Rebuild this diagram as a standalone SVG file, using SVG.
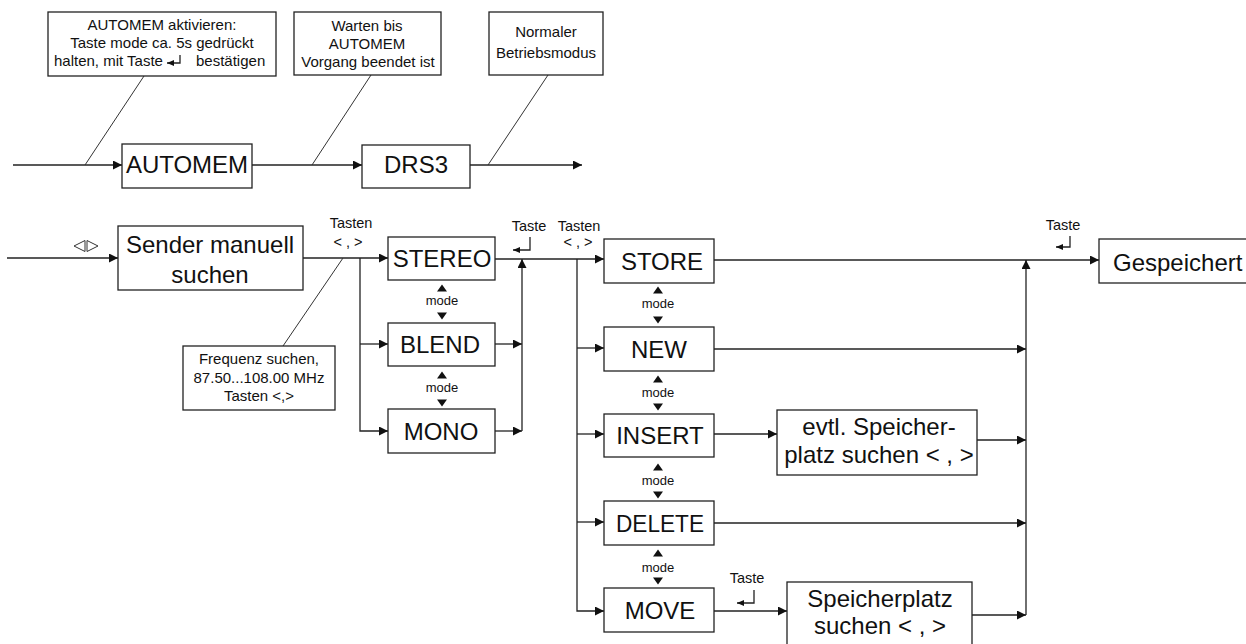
<svg xmlns="http://www.w3.org/2000/svg" xmlns:xlink="http://www.w3.org/1999/xlink" width="1246" height="644" viewBox="0 0 1246 644">
<style>
  .box{fill:#fff;stroke:#222;stroke-width:1.3}
  .ln{fill:none;stroke:#222;stroke-width:1.3}
  .thin{fill:none;stroke:#333;stroke-width:1}
  .big{font-family:"Liberation Sans",Arial,sans-serif;font-size:24px;fill:#111;text-anchor:middle}
  .sm{font-family:"Liberation Sans",Arial,sans-serif;font-size:15px;fill:#111;text-anchor:middle}
  .lbl{font-family:"Liberation Sans",Arial,sans-serif;font-size:14.5px;fill:#111;text-anchor:middle}
  .mode{font-family:"Liberation Sans",Arial,sans-serif;font-size:13px;fill:#111;text-anchor:middle}
  .tri{fill:#111}
</style>
<defs>
  <marker id="ah" markerUnits="userSpaceOnUse" markerWidth="10" markerHeight="9" refX="9" refY="4.5" orient="auto">
    <path d="M0,0 L9,4.5 L0,9 Z" fill="#111"/>
  </marker>
  <marker id="ahs" markerUnits="userSpaceOnUse" markerWidth="8" markerHeight="7" refX="7" refY="3" orient="auto">
    <path d="M0,0 L7,3 L0,6 Z" fill="#111"/>
  </marker>
  <path id="up" class="tri" d="M-5,3.5 L5,3.5 L0,-3.5 Z"/>
  <path id="down" class="tri" d="M-5,-3.5 L5,-3.5 L0,3.5 Z"/>
</defs>
<rect width="1246" height="644" fill="#fff"/>

<g id="connectors">
  <!-- top row -->
  <line class="ln" x1="13" y1="165" x2="122" y2="165" marker-end="url(#ah)"/>
  <line class="ln" x1="252" y1="165" x2="362" y2="165" marker-end="url(#ah)"/>
  <line class="ln" x1="470" y1="165" x2="582" y2="165" marker-end="url(#ah)"/>
  <line class="thin" x1="144" y1="76" x2="85" y2="165"/>
  <line class="thin" x1="371" y1="75" x2="312" y2="165"/>
  <line class="thin" x1="548" y1="75" x2="488" y2="165"/>
  <!-- input -->
  <line class="ln" x1="7" y1="258" x2="118" y2="258" marker-end="url(#ah)"/>
  <line class="ln" x1="303" y1="258" x2="388" y2="258" marker-end="url(#ah)"/>
  <line class="thin" x1="283" y1="346" x2="343" y2="258"/>
  <!-- branch 1 -->
  <polyline class="ln" points="360,258 360,431 388,431" marker-end="url(#ah)"/>
  <line class="ln" x1="360" y1="344" x2="388" y2="344" marker-end="url(#ah)"/>
  <!-- collector 1 -->
  <line class="ln" x1="495" y1="344" x2="522" y2="344" marker-end="url(#ah)"/>
  <line class="ln" x1="495" y1="431" x2="522" y2="431" marker-end="url(#ah)"/>
  <line class="ln" x1="522" y1="431" x2="522" y2="259" marker-end="url(#ah)"/>
  <line class="ln" x1="495" y1="259" x2="604" y2="259" marker-end="url(#ah)"/>
  <!-- branch 2 -->
  <polyline class="ln" points="577,259 577,611 604,611" marker-end="url(#ah)"/>
  <line class="ln" x1="577" y1="348" x2="604" y2="348" marker-end="url(#ah)"/>
  <line class="ln" x1="577" y1="434" x2="604" y2="434" marker-end="url(#ah)"/>
  <line class="ln" x1="577" y1="522" x2="604" y2="522" marker-end="url(#ah)"/>
  <!-- outputs -->
  <line class="ln" x1="714" y1="260" x2="1099" y2="260" marker-end="url(#ah)"/>
  <line class="ln" x1="714" y1="349" x2="1026" y2="349" marker-end="url(#ah)"/>
  <line class="ln" x1="714" y1="434" x2="777" y2="434" marker-end="url(#ah)"/>
  <line class="ln" x1="977" y1="440" x2="1026" y2="440" marker-end="url(#ah)"/>
  <line class="ln" x1="714" y1="523" x2="1026" y2="523" marker-end="url(#ah)"/>
  <line class="ln" x1="714" y1="611" x2="787" y2="611" marker-end="url(#ah)"/>
  <line class="ln" x1="972" y1="615" x2="1026" y2="615" marker-end="url(#ah)"/>
  <line class="ln" x1="1026" y1="615" x2="1026" y2="260" marker-end="url(#ah)"/>
</g>

<g id="labels">
  <g id="input-symbol">
    <polygon class="thin" points="74,246 85,240.5 85,251.5"/>
    <polygon class="thin" points="87,240.5 87,251.5 98,246"/>
  </g>
  <text class="lbl" x="351" y="228">Tasten</text>
  <text class="lbl" x="348" y="247">&lt; , &gt;</text>
  <text class="lbl" x="529" y="231">Taste</text>
  <path class="ln" d="M530,237 V250 H513" marker-end="url(#ahs)"/>
  <text class="lbl" x="579" y="231">Tasten</text>
  <text class="lbl" x="578" y="247">&lt; , &gt;</text>
  <text class="lbl" x="1063" y="230">Taste</text>
  <path class="ln" d="M1070,236 V247 H1056" marker-end="url(#ahs)"/>
  <text class="lbl" x="747" y="583">Taste</text>
  <path class="ln" d="M754,590 V603 H737" marker-end="url(#ahs)"/>
  <!-- mode indicators STEREO column -->
  <use href="#up" x="442" y="288"/>
  <text class="mode" x="442" y="305">mode</text>
  <use href="#down" x="442" y="316"/>
  <use href="#up" x="442" y="375"/>
  <text class="mode" x="442" y="392">mode</text>
  <use href="#down" x="442" y="403"/>
  <!-- mode indicators STORE column -->
  <use href="#up" x="658" y="290"/>
  <text class="mode" x="658" y="308">mode</text>
  <use href="#down" x="658" y="320"/>
  <use href="#up" x="658" y="379"/>
  <text class="mode" x="658" y="397">mode</text>
  <use href="#down" x="658" y="407"/>
  <use href="#up" x="658" y="467"/>
  <text class="mode" x="658" y="485">mode</text>
  <use href="#down" x="658" y="495"/>
  <use href="#up" x="658" y="553"/>
  <text class="mode" x="658" y="572">mode</text>
  <use href="#down" x="658" y="581"/>
</g>

<g id="hint-automem">
  <rect class="box" x="48" y="12" width="228" height="64"/>
  <text class="sm" x="162" y="30">AUTOMEM aktivieren:</text>
  <text class="sm" x="162" y="48">Taste mode ca. 5s gedrückt</text>
  <text class="sm" x="54" y="66" style="text-anchor:start">halten, mit Taste</text>
  <path class="ln" d="M180,55 V63 H167" marker-end="url(#ahs)"/>
  <text class="sm" x="196" y="66" style="text-anchor:start">bestätigen</text>
</g>
<g id="hint-wait">
  <rect class="box" x="294" y="12" width="147" height="63"/>
  <text class="sm" x="367" y="31">Warten bis</text>
  <text class="sm" x="367" y="49">AUTOMEM</text>
  <text class="sm" x="368" y="67">Vorgang beendet ist</text>
</g>
<g id="hint-normal">
  <rect class="box" x="489" y="12" width="114" height="63"/>
  <text class="sm" x="546" y="37">Normaler</text>
  <text class="sm" x="546" y="58">Betriebsmodus</text>
</g>
<g id="node-automem">
  <rect class="box" x="122" y="144" width="130" height="44"/>
  <text class="big" x="187" y="173">AUTOMEM</text>
</g>
<g id="node-drs3">
  <rect class="box" x="362" y="145" width="108" height="43"/>
  <text class="big" x="416" y="173">DRS3</text>
</g>

<g id="node-sender">
  <rect class="box" x="118" y="226" width="185" height="64"/>
  <text class="big" x="210" y="253">Sender manuell</text>
  <text class="big" x="210" y="283">suchen</text>
</g>
<g id="hint-frequenz">
  <rect class="box" x="183" y="346" width="152" height="64"/>
  <text class="sm" x="259" y="364">Frequenz suchen,</text>
  <text class="sm" x="259" y="383">87.50...108.00 MHz</text>
  <text class="sm" x="259" y="401">Tasten &lt;,&gt;</text>
</g>
<g id="node-stereo">
  <rect class="box" x="388" y="237" width="107" height="43"/>
  <text class="big" x="442" y="267">STEREO</text>
</g>
<g id="node-blend">
  <rect class="box" x="388" y="323" width="107" height="43"/>
  <text class="big" x="440" y="353">BLEND</text>
</g>
<g id="node-mono">
  <rect class="box" x="388" y="409" width="107" height="44"/>
  <text class="big" x="441" y="440">MONO</text>
</g>
<g id="node-store">
  <rect class="box" x="604" y="239" width="110" height="44"/>
  <text class="big" x="662" y="270">STORE</text>
</g>
<g id="node-new">
  <rect class="box" x="604" y="327" width="110" height="44"/>
  <text class="big" x="659" y="358">NEW</text>
</g>
<g id="node-insert">
  <rect class="box" x="604" y="414" width="110" height="43"/>
  <text class="big" x="660" y="444">INSERT</text>
</g>
<g id="node-delete">
  <rect class="box" x="604" y="501" width="110" height="44"/>
  <text class="big" x="660" y="532" textLength="88" lengthAdjust="spacingAndGlyphs">DELETE</text>
</g>
<g id="node-move">
  <rect class="box" x="604" y="588" width="110" height="44"/>
  <text class="big" x="660" y="619">MOVE</text>
</g>
<g id="node-evtl">
  <rect class="box" x="777" y="410" width="200" height="65"/>
  <text class="big" x="879" y="435">evtl. Speicher-</text>
  <text class="big" x="879" y="463">platz suchen &lt; , &gt;</text>
</g>
<g id="node-speicherplatz">
  <rect class="box" x="787" y="582" width="185" height="70"/>
  <text class="big" x="880" y="607">Speicherplatz</text>
  <text class="big" x="880" y="634">suchen &lt; , &gt;</text>
</g>
<g id="node-gespeichert">
  <rect class="box" x="1099" y="239" width="155" height="44"/>
  <text class="big" x="1113" y="271" style="text-anchor:start">Gespeichert</text>
</g>
</svg>
